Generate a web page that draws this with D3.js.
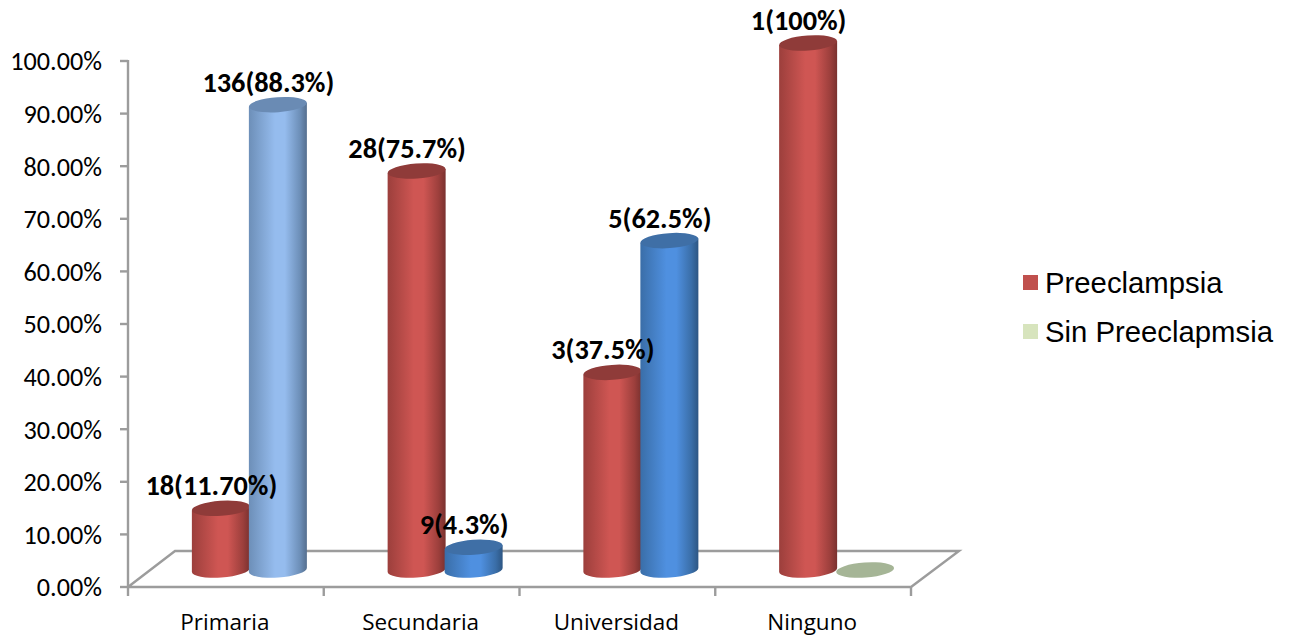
<!DOCTYPE html>
<html><head><meta charset="utf-8">
<script src="https://cdnjs.cloudflare.com/ajax/libs/d3/7.8.5/d3.min.js"></script>
<style>html,body{margin:0;background:#fff}svg{display:block}</style></head><body>
<svg id="c" width="1290" height="637"></svg>
<script>
const categories=["Primaria","Secundaria","Universidad","Ninguno"];
const preeclampsia=[11.7,75.7,37.5,100];
const sinPreeclampsia=[88.3,4.3,62.5,0];
const preLabels=["18(11.70%)","28(75.7%)","3(37.5%)","1(100%)"];
const sinLabels=["136(88.3%)","9(4.3%)","5(62.5%)",""];
const sinColors=[["#6d8fb8","#95bcee"],["#3a6ea8","#4f90e0"],["#3a6ea8","#4f90e0"],["#a5b596","#a5b596"]];
const sinTops=["#6a8bb4","#3f6fa6","#3f6fa6","#a5b596"];
const yTicks=d3.range(0,101,10);
const legendItems=[["Preeclampsia","#c0504d"],["Sin Preeclapmsia","#d7e4bd"]];

const svg=d3.select("#c");
const y=d3.scaleLinear().domain([0,100]).range([586.5,60.5]);
const h=d3.scaleLinear().domain([0,100]).range([0,527]);
const x=d3.scaleBand().domain(categories).range([128,911]);
const defs=svg.append("defs");
function grad(id,edge,mid){
  const g=defs.append("linearGradient").attr("id",id);
  [[0,edge],[.45,mid],[.62,mid],[.88,edge],[1,d3.color(edge).darker(.7)]].forEach(s=>g.append("stop").attr("offset",s[0]).attr("stop-color",s[1]));
}
grad("gp","#9c3f3c","#cf5653");
sinColors.forEach((c,i)=>grad("gs"+i,c[0],c[1]));

// floor
const grey="#9c9c9c";
svg.append("path").attr("fill","none").attr("stroke",grey).attr("stroke-width",2.4)
  .attr("d",d3.line()([[128,587],[175,551],[959,551],[911,587],[128,587]]));
// y axis
const ya=svg.append("g").attr("transform","translate(128,0)").call(d3.axisLeft(y).tickValues(yTicks).tickSize(8).tickPadding(18).tickFormat(d=>d3.format(".2f")(d)+"%"));
ya.select(".domain").attr("stroke",grey).attr("stroke-width",2.4).attr("d","M0,60V587");
ya.selectAll("line").attr("stroke",grey).attr("stroke-width",2.4);
ya.selectAll("text").attr("font-family","Carlito,'Open Sans',sans-serif").attr("font-size",26.2).attr("fill","#000").attr("dy","0.36em");
// x axis
const xa=svg.append("g").attr("transform","translate(0,586)").call(d3.axisBottom(x).tickSize(0).tickPadding(28));
xa.select(".domain").remove();
xa.selectAll("text").attr("font-family","'Open Sans',sans-serif").attr("font-size",22.5).attr("fill","#000").attr("dx",-1);
svg.append("g").selectAll("line").data(d3.range(categories.length+1)).join("line")
  .attr("x1",i=>128+i*x.bandwidth()).attr("x2",i=>128+i*x.bandwidth()).attr("y1",586).attr("y2",596).attr("stroke",grey).attr("stroke-width",2.4);

const W=58,RY=7.5,TILT=-4;
const baseY=570;
function cyl(cx,v,fill,top){
  const g=svg.append("g");
  const ty=baseY-h(v);
  const rad=TILT*Math.PI/180,dy=Math.sin(rad)*W/2;
  if(v>0){
    g.append("path").attr("fill",`url(#${fill})`).attr("d",
     `M${cx-W/2},${ty-dy} L${cx+W/2},${ty+dy} L${cx+W/2},${baseY+dy} A${W/2},${RY} ${TILT} 0 1 ${cx-W/2},${baseY-dy} Z`);
  }
  g.append("ellipse").attr("cx",cx).attr("cy",ty).attr("rx",W/2).attr("ry",RY).attr("fill",top)
    .attr("transform",`rotate(${TILT} ${cx} ${ty})`);
}
categories.forEach((c,i)=>{
  const px=x(c)+x.bandwidth()/2-5, sx=px+57;
  cyl(px,preeclampsia[i],"gp","#8f3b39");
  cyl(sx,sinPreeclampsia[i],"gs"+i,sinTops[i]);
  const lab=(t,xx,yy)=>svg.append("text").attr("x",xx).attr("y",yy).attr("text-anchor","middle")
    .attr("font-family","Carlito,'Open Sans',sans-serif").attr("font-weight",700).attr("font-size",28.3).attr("fill","#000").text(t);
  lab(preLabels[i],px-9.5,baseY-h(preeclampsia[i])-13);
  if(sinLabels[i]) lab(sinLabels[i],sx-9.5,baseY-h(sinPreeclampsia[i])-13);
});
// legend
legendItems.forEach((l,i)=>{
  const yy=283+i*49;
  svg.append("rect").attr("x",1023).attr("y",yy-8).attr("width",15).attr("height",15).attr("fill",l[1]);
  svg.append("text").attr("x",1045).attr("y",yy+10).attr("font-family","'Liberation Sans',Arial,sans-serif").attr("font-size",29.3).attr("fill","#000").text(l[0]);
});
</script></body></html>
